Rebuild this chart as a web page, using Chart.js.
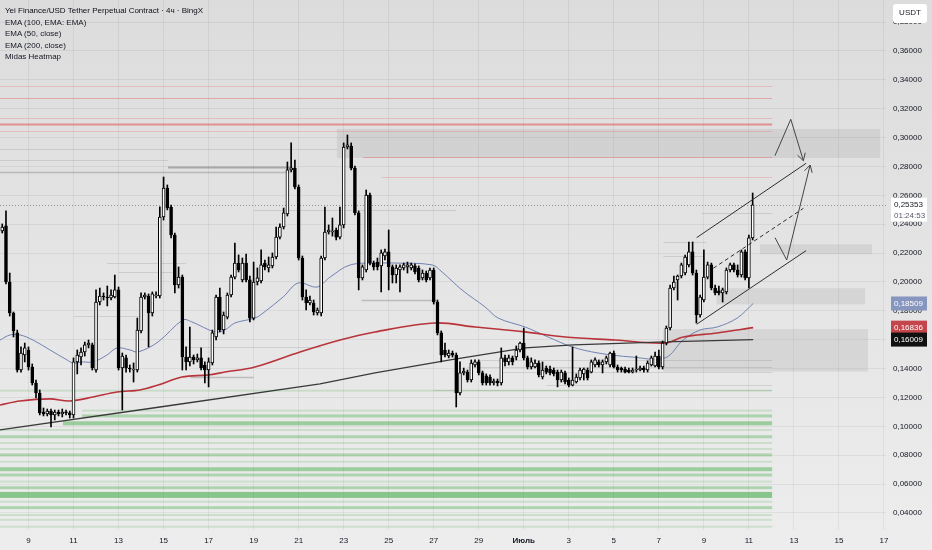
<!DOCTYPE html>
<html>
<head>
<meta charset="utf-8">
<title>YEI/USDT 4ч</title>
<script src="https://cdn.jsdelivr.net/npm/chart.js@4.4.1/dist/chart.umd.min.js"></script>
<style>
  html, body { margin: 0; padding: 0; background: #e4e4e4; }
  #wrap { position: relative; width: 932px; height: 550px; overflow: hidden; }
  #legend {
    position: absolute; left: 5px; top: 5px;
    font: 8px "Liberation Sans", Arial, sans-serif;
    color: #131722; line-height: 11.6px; pointer-events: none;
  }
  #legend .title { color: #0b0e16; }
</style>
</head>
<body>
<div id="wrap">
  <canvas id="chart" width="932" height="550"></canvas>
  <div id="legend">
    <div class="title">Yei Finance/USD Tether Perpetual Contract · 4ч · BingX</div>
    <div>EMA (100, EMA: EMA)</div>
    <div>EMA (50, close)</div>
    <div>EMA (200, close)</div>
    <div>Midas Heatmap</div>
  </div>
</div>
<script>
// --- время: дни июня (1 июля = 31), свечи по 4 часа ---
const firstCandleDay = 7 + 20 / 24;   // 7 июня 20:00
const candleStepDays = 4 / 24;
const xMin = 7.734;
const xMax = 47.09;
const yMin = 0.0282;
const yMax = 0.3953;

const dayTicks = [9, 11, 13, 15, 17, 19, 21, 23, 25, 27, 29, 31, 33, 35, 37, 39, 41, 43, 45, 47];
const dayTickLabels = ['9', '11', '13', '15', '17', '19', '21', '23', '25', '27', '29', 'Июль', '3', '5', '7', '9', '11', '13', '15', '17'];
const priceTicks = [0.04, 0.06, 0.08, 0.10, 0.12, 0.14, 0.16, 0.18, 0.20, 0.22, 0.24, 0.26, 0.28, 0.30, 0.32, 0.34, 0.36, 0.38];

// --- OHLC ---
const opens = [
  .2353,.2388,.2000,.1785,.1647,.1390,.1494,.1529,.1411,.1300,
  .1231,.1099,.1086,.1106,.1079,.1099,.1086,.1099,.1093,.1079,
  .1446,.1480,.1515,.1564,.1564,.1390,.1861,.1903,.1896,.1889,
  .1896,.1945,.1404,.1474,.1404,.1390,.1390,.1661,.1896,.1903,
  .1785,.1903,.1903,.2450,.2651,.2519,.2325,.1979,.2034,.1480,
  .1446,.1480,.1460,.1474,.1425,.1390,.1439,.1619,.1896,.1667,
  .1757,.1910,.2034,.2131,.2014,.2131,.2014,.1750,.2000,.2007,
  .2131,.2097,.2111,.2173,.2311,.2381,.2471,.2776,.2789,.2658,
  .2166,.1896,.1854,.1854,.1785,.1785,.2166,.2346,.2346,.2360,
  .2311,.2395,.2935,.2942,.2789,.2478,.2028,.2083,.2602,.2131,
  .2138,.2111,.2180,.2208,.2104,.2048,.2083,.2097,.2104,.2097,
  .2111,.2097,.2028,.2062,.2028,.2083,.1861,.1647,.1529,.1487,
  .1508,.1494,.1231,.1370,.1376,.1321,.1425,.1446,.1370,.1349,
  .1342,.1300,.1314,.1300,.1474,.1446,.1474,.1480,.1529,.1577,
  .1474,.1411,.1411,.1439,.1342,.1404,.1397,.1390,.1376,.1321,
  .1370,.1321,.1286,.1307,.1335,.1363,.1390,.1376,.1425,.1446,
  .1425,.1446,.1425,.1508,.1411,.1404,.1397,.1390,.1376,.1390,
  .1390,.1404,.1390,.1425,.1418,.1487,.1411,.1577,.1681,.1958,
  .2014,.2041,.2062,.2118,.2208,.2062,.1771,.1875,.2034,.2118,
  .1958,.1938,.1924,.1931,.2083,.2118,.2083,.2048,.2208,.2028,
  .2305
];
const highs = [
  .2402,.2492,.2062,.1792,.1667,.1550,.1577,.1550,.1432,.1321,
  .1252,.1127,.1120,.1120,.1113,.1113,.1120,.1113,.1106,.1474,
  .1529,.1543,.1584,.1598,.1577,.1945,.1958,.1924,.1972,.1945,
  .2048,.1965,.1508,.1494,.1425,.1439,.1750,.1924,.1924,.1917,
  .1931,.1931,.2520,.2727,.2672,.2533,.2339,.2104,.2048,.1550,
  .1688,.1494,.1501,.1543,.1446,.1474,.1667,.1910,.1958,.1792,
  .1924,.2048,.2270,.2187,.2166,.2194,.2041,.2138,.2097,.2222,
  .2152,.2173,.2201,.2381,.2402,.2512,.2831,.2963,.2845,.2672,
  .2180,.1945,.1903,.1875,.1820,.2180,.2519,.2395,.2443,.2374,
  .2519,.2963,.3018,.2963,.2803,.2492,.2118,.2637,.2616,.2145,
  .2166,.2222,.2228,.2360,.2118,.2118,.2118,.2131,.2138,.2131,
  .2125,.2111,.2083,.2076,.2097,.2097,.1875,.1661,.1577,.1529,
  .1522,.1508,.1446,.1404,.1390,.1460,.1460,.1460,.1383,.1363,
  .1356,.1328,.1328,.1543,.1494,.1494,.1487,.1557,.1584,.1681,
  .1487,.1474,.1460,.1453,.1446,.1418,.1418,.1404,.1390,.1390,
  .1383,.1335,.1550,.1363,.1404,.1404,.1404,.1460,.1474,.1460,
  .1460,.1487,.1515,.1522,.1425,.1411,.1411,.1404,.1404,.1487,
  .1418,.1418,.1453,.1487,.1515,.1529,.1591,.1695,.1979,.2041,
  .2048,.2131,.2187,.2277,.2277,.2083,.1910,.2222,.2138,.2131,
  .1979,.1972,.1958,.2097,.2131,.2131,.2118,.2222,.2222,.2325,
  .2616
];
const lows = [
  .2339,.1986,.1764,.1619,.1376,.1376,.1446,.1390,.1286,.1197,
  .1079,.1072,.1072,.0996,.1044,.1072,.1065,.1079,.1058,.1058,
  .1363,.1425,.1487,.1543,.1390,.1376,.1841,.1875,.1834,.1875,
  .1889,.1390,.1113,.1376,.1376,.1307,.1376,.1647,.1882,.1550,
  .1764,.1889,.1889,.2429,.2499,.2305,.1924,.1958,.1390,.1390,
  .1418,.1432,.1446,.1390,.1300,.1273,.1425,.1598,.1654,.1640,
  .1744,.1896,.2021,.2069,.2000,.2000,.1723,.1737,.1979,.1993,
  .2083,.2069,.2097,.2159,.2298,.2367,.2457,.2762,.2644,.2152,
  .1875,.1806,.1841,.1771,.1771,.1764,.2152,.2332,.2318,.2291,
  .2298,.2374,.2921,.2776,.2464,.1945,.2014,.2069,.2118,.2083,
  .2083,.1931,.2152,.1945,.1993,.1993,.1931,.2083,.2062,.2083,
  .2055,.2000,.2014,.2000,.2014,.1847,.1633,.1446,.1480,.1474,
  .1480,.1134,.1217,.1356,.1307,.1307,.1411,.1356,.1286,.1286,
  .1286,.1286,.1280,.1286,.1418,.1425,.1425,.1460,.1515,.1460,
  .1397,.1397,.1404,.1342,.1328,.1363,.1356,.1349,.1273,.1307,
  .1293,.1273,.1280,.1300,.1321,.1321,.1321,.1370,.1411,.1411,
  .1370,.1432,.1411,.1404,.1376,.1376,.1370,.1370,.1370,.1376,
  .1383,.1376,.1376,.1418,.1411,.1397,.1397,.1564,.1667,.1945,
  .1875,.2028,.2048,.2104,.2048,.1716,.1757,.1861,.2021,.1945,
  .1910,.1910,.1861,.1917,.2069,.2069,.2034,.2034,.2014,.1958,
  .2291
];
const closes = [
  .2381,.2000,.1785,.1661,.1390,.1508,.1543,.1411,.1300,.1231,
  .1093,.1086,.1106,.1079,.1099,.1086,.1099,.1093,.1079,.1446,
  .1494,.1515,.1564,.1577,.1404,.1861,.1903,.1896,.1889,.1910,
  .1945,.1404,.1487,.1404,.1397,.1397,.1667,.1896,.1910,.1785,
  .1917,.1910,.2450,.2651,.2512,.2325,.1979,.2034,.1480,.1446,
  .1480,.1460,.1474,.1404,.1390,.1446,.1647,.1896,.1667,.1771,
  .1910,.2034,.2131,.2083,.2131,.2014,.1750,.2000,.2028,.2118,
  .2104,.2118,.2173,.2311,.2381,.2478,.2776,.2790,.2658,.2166,
  .1896,.1854,.1875,.1792,.1806,.2166,.2346,.2360,.2353,.2311,
  .2395,.2935,.2949,.2789,.2478,.2028,.2104,.2602,.2131,.2104,
  .2104,.2201,.2208,.2104,.2048,.2097,.2104,.2118,.2118,.2118,
  .2069,.2014,.2062,.2014,.2083,.1861,.1647,.1494,.1494,.1508,
  .1494,.1231,.1370,.1383,.1321,.1439,.1446,.1370,.1300,.1300,
  .1300,.1314,.1300,.1474,.1446,.1474,.1446,.1529,.1577,.1474,
  .1411,.1446,.1439,.1356,.1390,.1376,.1370,.1363,.1321,.1376,
  .1307,.1286,.1321,.1342,.1390,.1397,.1335,.1446,.1460,.1425,
  .1446,.1474,.1508,.1411,.1390,.1390,.1376,.1376,.1390,.1397,
  .1404,.1390,.1439,.1474,.1487,.1411,.1577,.1681,.1958,.2000,
  .2041,.2118,.2173,.2208,.2062,.1771,.1896,.2034,.2118,.1958,
  .1924,.1924,.1945,.2083,.2118,.2083,.2048,.2208,.2028,.2305,
  .2535
];

// --- скользящие ---
const ema50Days = [7.734, 8.178, 8.622, 9.2, 9.955, 10.71, 10.977, 11.42, 11.865, 12.487, 12.93, 13.51, 13.864, 14.753, 15.86, 16.26, 17.285, 17.73, 18.17, 19.06, 19.42, 20.31, 20.98, 21.82, 22.40, 23.29, 24.62, 25.28, 26.93, 27.37, 28.26, 29.28, 29.86, 31.06, 32.08, 33.15, 34.30, 35.81, 37.28, 38.08, 38.84, 39.59, 40.48, 41.19];
const ema50 = [0.1598, 0.1633, 0.1633, 0.1598, 0.1529, 0.1460, 0.1439, 0.1446, 0.1446, 0.1494, 0.1543, 0.1529, 0.1515, 0.1584, 0.1737, 0.1723, 0.1654, 0.1668, 0.1716, 0.1750, 0.1785, 0.1896, 0.1993, 0.1965, 0.2034, 0.2118, 0.2131, 0.2131, 0.2118, 0.2069, 0.1944, 0.1827, 0.1750, 0.1688, 0.1619, 0.1550, 0.1508, 0.1480, 0.1474, 0.1598, 0.1668, 0.1688, 0.1750, 0.1851];
const ema200Days = [7.734, 8.622, 9.955, 10.844, 11.865, 12.93, 13.953, 14.753, 15.819, 16.974, 17.73, 19.06, 21.06, 22.84, 24.39, 27.06, 28.83, 31.06, 32.84, 35.06, 37.28, 38.08, 39.59, 41.19];
const ema200 = [0.1148, 0.1176, 0.1190, 0.1176, 0.1203, 0.1238, 0.1252, 0.1286, 0.1342, 0.1356, 0.1376, 0.1411, 0.1515, 0.1598, 0.1654, 0.1716, 0.1688, 0.1654, 0.1619, 0.1598, 0.1577, 0.1619, 0.1647, 0.1684];
const ema100Days = [7.734, 14.84, 21.95, 24.39, 27.73, 31.06, 33.19, 37.28, 41.19];
const ema100 = [0.0975, 0.1134, 0.1294, 0.1370, 0.1460, 0.1543, 0.1564, 0.1585, 0.1601];

// --- Midas Heatmap: зоны и уровни ---
const heatEnd = 42.03;
const zoneFrom = [22.70, 41.49, 39.57, 37.19];
const zoneTo = [46.83, 46.47, 46.16, 46.29];
const zoneLow = [0.2859, 0.2192, 0.1845, 0.1379];
const zoneHigh = [0.3060, 0.2261, 0.1956, 0.1674];

const redLevels = [0.3359, 0.3272, 0.3134, 0.3092, 0.3048, 0.2864, 0.2729];
const redFrom = [7.73, 7.73, 7.73, 7.73, 7.73, 23.86, 24.69];
const redWeight = [1, 2, 1, 3, 1, 2, 1];

const grayLevels = [0.2921, 0.2845, 0.2793, 0.2762, 0.2499, 0.2180, 0.2131, 0.2069, 0.1875, 0.1764, 0.1550, 0.1342, 0.2478, 0.2277, 0.1460, 0.1411, 0.1376, 0.1286, 0.1252];
const grayFrom = [7.73, 7.73, 15.2, 7.73, 19.0, 37.2, 12.5, 13.0, 23.8, 11.0, 16.0, 16.2, 38.9, 37.2, 29.0, 28.5, 30.0, 32.0, 27.0];
const grayTo = [22.7, 15.2, 20.62, 20.62, 28.0, 39.0, 16.0, 15.5, 27.1, 14.0, 22.0, 19.0, 42.03, 39.1, 42.03, 42.03, 42.03, 42.03, 42.03];
const grayWeight = [1, 1, 3, 2, 1, 1, 1, 1, 2, 1, 1, 2, 1, 1, 1, 1, 1, 1, 1];

const greenLevels = [0.1247, 0.1109, 0.1072, 0.1021, 0.0975, 0.0928, 0.0885, 0.0843, 0.0802, 0.0755, 0.0703, 0.0663, 0.0617, 0.0575, 0.0525, 0.0478, 0.0437, 0.0386, 0.0352, 0.0305];
const greenFrom = [7.73, 11.38, 11.38, 10.53, 7.73, 7.73, 7.73, 7.73, 7.73, 7.73, 7.73, 7.73, 7.73, 7.73, 7.73, 7.73, 7.73, 7.73, 7.73, 7.73];
const greenWeight = [1, 1, 2, 3, 1, 2, 1, 1, 2, 1, 3, 2, 1, 2, 4, 1, 2, 1, 1, 1];

// --- рисунки: канал и стрелки ---
const channelTop = [[38.68, 0.2307], [43.54, 0.2822]];
const channelBottom = [[38.68, 0.1707], [43.54, 0.2217]];
const channelMid = [[39.42, 0.2095], [43.42, 0.2510]];
const zigzagUp = [[42.16, 0.2875], [42.86, 0.3127], [43.42, 0.2840]];
const arrowHeadUp = [[43.16, 0.2878], [43.42, 0.2840], [43.50, 0.2895]];
const zigzagDown = [[42.16, 0.2307], [42.68, 0.2152], [43.72, 0.2810]];
const arrowHeadDown = [[43.47, 0.2770], [43.72, 0.2810], [43.81, 0.2756]];

// --- метки на шкале цены ---
const lastPrice = 0.25353;
const candleTimer = '01:24:53';
const tagValues = [0.18509, 0.16836, 0.16009];
const tagColors = ['#8796bf', '#c4464c', '#111111'];

const fmt = v => v.toFixed(5).replace('.', ',');
const pts = arr => arr.map(p => ({ x: p[0], y: p[1] }));

const candleX = opens.map((_, i) => firstCandleDay + i * candleStepDays);
const wickData = candleX.map((x, i) => ({ x, y: [lows[i], highs[i]] }));
const bodyData = candleX.map((x, i) => ({ x, y: [opens[i], closes[i]] }));
const bodyColors = opens.map((o, i) => closes[i] >= o ? '#ffffff' : '#000000');

const bgPlugin = {
  id: 'bg',
  beforeDraw(chart) {
    const { ctx, width, height } = chart;
    const g = ctx.createLinearGradient(0, 0, 0, height);
    g.addColorStop(0, '#dcdcdc');
    g.addColorStop(1, '#ededed');
    ctx.save();
    ctx.fillStyle = g;
    ctx.fillRect(0, 0, width, height);
    ctx.restore();
  }
};

const heatmapPlugin = {
  id: 'heatmap',
  beforeDatasetsDraw(chart) {
    const { ctx, chartArea, scales: { x, y } } = chart;
    ctx.save();
    ctx.beginPath();
    ctx.rect(chartArea.left, chartArea.top, chartArea.right - chartArea.left, chartArea.bottom - chartArea.top);
    ctx.clip();

    // серые зоны
    ctx.fillStyle = 'rgba(150,150,150,0.2)';
    zoneLow.forEach((lo, i) => {
      const x0 = x.getPixelForValue(zoneFrom[i]);
      const x1 = x.getPixelForValue(zoneTo[i]);
      const y0 = y.getPixelForValue(zoneHigh[i]);
      const y1 = y.getPixelForValue(lo);
      ctx.fillRect(x0, y0, x1 - x0, y1 - y0);
    });

    // зелёные полосы
    const gThick = [0, 2, 3, 4, 6];
    const gAlpha = [0, 0.2, 0.38, 0.5, 0.62];
    const xEnd = x.getPixelForValue(heatEnd);
    greenLevels.forEach((lv, i) => {
      const w = greenWeight[i];
      const yy = y.getPixelForValue(lv);
      const x0 = x.getPixelForValue(greenFrom[i]);
      ctx.fillStyle = 'rgba(76,175,80,' + gAlpha[w] + ')';
      ctx.fillRect(x0, yy - gThick[w] / 2, xEnd - x0, gThick[w]);
    });

    // серые уровни
    const grW = [0, 1, 1.5, 2];
    const grA = [0, 0.2, 0.35, 0.5];
    grayLevels.forEach((lv, i) => {
      const w = grayWeight[i];
      const yy = Math.round(y.getPixelForValue(lv)) + 0.5;
      ctx.strokeStyle = 'rgba(110,110,110,' + grA[w] + ')';
      ctx.lineWidth = grW[w];
      ctx.beginPath();
      ctx.moveTo(x.getPixelForValue(grayFrom[i]), yy);
      ctx.lineTo(x.getPixelForValue(grayTo[i]), yy);
      ctx.stroke();
    });

    // красные уровни
    const rW = [0, 1, 1.2, 1.8];
    const rA = [0, 0.3, 0.5, 0.7];
    redLevels.forEach((lv, i) => {
      const w = redWeight[i];
      const yy = Math.round(y.getPixelForValue(lv)) + 0.5;
      ctx.strokeStyle = 'rgba(230,110,110,' + rA[w] + ')';
      ctx.lineWidth = rW[w];
      ctx.beginPath();
      ctx.moveTo(x.getPixelForValue(redFrom[i]), yy);
      ctx.lineTo(xEnd, yy);
      ctx.stroke();
    });

    // линия последней цены
    const yp = Math.round(y.getPixelForValue(lastPrice)) + 0.5;
    ctx.strokeStyle = 'rgba(120,130,150,0.8)';
    ctx.lineWidth = 1;
    ctx.setLineDash([1, 2]);
    ctx.beginPath();
    ctx.moveTo(chartArea.left, yp);
    ctx.lineTo(chartArea.right, yp);
    ctx.stroke();
    ctx.restore();
  }
};

const tagsPlugin = {
  id: 'tags',
  afterDraw(chart) {
    const { ctx, chartArea, scales: { y } } = chart;
    const left = chartArea.right + 5;
    const w = 36;
    ctx.save();
    ctx.font = '8px "Liberation Sans", Arial, sans-serif';
    ctx.textBaseline = 'middle';

    // USDT
    ctx.fillStyle = '#ffffff';
    ctx.beginPath();
    ctx.roundRect(left + 2, 4, w - 2, 19, 3);
    ctx.fill();
    ctx.fillStyle = '#131722';
    ctx.textAlign = 'center';
    ctx.fillText('USDT', left + 1 + w / 2, 13);

    // последняя цена + таймер
    ctx.textAlign = 'left';
    const yl = y.getPixelForValue(lastPrice);
    ctx.fillStyle = '#ffffff';
    ctx.fillRect(left, yl - 7, w, 24);
    ctx.fillStyle = '#131722';
    ctx.fillText(fmt(lastPrice), left + 3, yl);
    ctx.fillStyle = '#555a66';
    ctx.fillText(candleTimer, left + 3, yl + 11);

    tagValues.forEach((v, i) => {
      const yy = y.getPixelForValue(v);
      ctx.fillStyle = tagColors[i];
      ctx.fillRect(left, yy - 7, w, 14);
      ctx.fillStyle = '#ffffff';
      ctx.fillText(fmt(v), left + 3, yy);
    });
    ctx.restore();
  }
};

const lineDs = (data, color, width, extra) => Object.assign({
  type: 'line', data, borderColor: color, borderWidth: width,
  pointRadius: 0, fill: false, tension: 0, order: 4
}, extra || {});

new Chart(document.getElementById('chart'), {
  type: 'bar',
  data: {
    datasets: [
      { type: 'bar', label: 'wick', data: wickData, backgroundColor: '#000000', barThickness: 1, grouped: false, order: 2 },
      { type: 'bar', label: 'body', data: bodyData, backgroundColor: bodyColors, borderColor: '#000000', borderWidth: 1,
        borderSkipped: false, barThickness: 3, minBarLength: 1, grouped: false, order: 1 },
      lineDs(ema100Days.map((d, i) => ({ x: d, y: ema100[i] })), '#3a3a3a', 1.3, { order: 5 }),
      lineDs(ema200Days.map((d, i) => ({ x: d, y: ema200[i] })), '#b8333a', 1.6, { tension: 0.35, order: 5 }),
      lineDs(ema50Days.map((d, i) => ({ x: d, y: ema50[i] })), '#7282b4', 1, { tension: 0.35, order: 5 }),
      lineDs(pts(channelTop), '#2e2e2e', 1, { order: 0 }),
      lineDs(pts(channelBottom), '#2e2e2e', 1, { order: 0 }),
      lineDs(pts(channelMid), '#2e2e2e', 1, { borderDash: [4, 3], order: 0 }),
      lineDs(pts(zigzagUp), '#454545', 1, { order: 0 }),
      lineDs(pts(arrowHeadUp), '#454545', 1, { order: 0 }),
      lineDs(pts(zigzagDown), '#454545', 1, { order: 0 }),
      lineDs(pts(arrowHeadDown), '#454545', 1, { order: 0 })
    ]
  },
  options: {
    responsive: false,
    animation: false,
    devicePixelRatio: 1,
    layout: { padding: 0 },
    plugins: {
      legend: { display: false },
      tooltip: { enabled: false }
    },
    scales: {
      x: {
        type: 'linear',
        min: xMin,
        max: xMax,
        offset: false,
        afterBuildTicks: s => { s.ticks = dayTicks.map(v => ({ value: v })); },
        afterFit: s => { s.height = 20; s.paddingLeft = 0; s.paddingRight = 0; },
        grid: { color: 'rgba(0,0,0,0.055)', drawTicks: false, offset: false },
        border: { display: false },
        ticks: {
          padding: 6,
          maxRotation: 0,
          autoSkip: false,
          color: '#131722',
          font: ctx => ({ size: 8, family: '"Liberation Sans", Arial, sans-serif', weight: ctx.tick && ctx.tick.value === 31 ? 'bold' : 'normal' }),
          callback: (v, i) => dayTickLabels[i]
        }
      },
      y: {
        type: 'linear',
        position: 'right',
        min: yMin,
        max: yMax,
        afterBuildTicks: s => { s.ticks = priceTicks.map(v => ({ value: v })); },
        afterFit: s => { s.width = 46; s.paddingTop = 0; s.paddingBottom = 0; },
        grid: { color: 'rgba(0,0,0,0.055)', drawTicks: false },
        border: { display: false },
        ticks: {
          padding: 7,
          color: '#131722',
          font: { size: 8, family: '"Liberation Sans", Arial, sans-serif' },
          callback: v => fmt(v)
        }
      }
    }
  },
  plugins: [bgPlugin, heatmapPlugin, tagsPlugin]
});
</script>
</body>
</html>
